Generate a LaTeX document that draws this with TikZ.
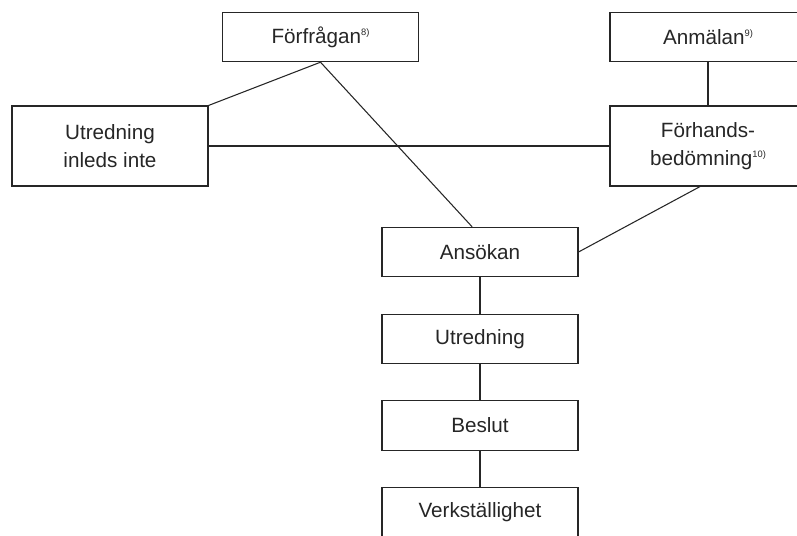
\documentclass[tikz,border=0pt]{standalone}
\usepackage{fontspec}
\setmainfont{Liberation Sans}
\usepackage{tikz}
\usetikzlibrary{positioning, calc}

\newcommand{\fnmark}[1]{\raisebox{6pt}{\fontsize{7}{8}\selectfont #1}}

\begin{document}
\begin{tikzpicture}[
  x=0.75pt, y=-0.75pt,
  stepbox/.style={draw, rectangle, black!85, line width=0.8pt, minimum width=147pt, minimum height=37pt, inner sep=2pt, text=black!85, font=\fontsize{15.5}{20.5}\selectfont, align=center},
  tallbox/.style={stepbox, minimum height=60pt},
  link/.style={line width=0.8pt, black!85},
  node distance=27.3pt
]
\useasboundingbox (0,0) rectangle (797,536);
\clip (0,0) rectangle (797,536);

% Top row
\node[stepbox]  (Forfragan) at (320.5,37)  {Förfrågan\fnmark{8)}};
\node[stepbox]  (Anmalan)   at (708,37)    {Anmälan\fnmark{9)}};

% Second row
\node[tallbox]  (UtrInte)   at (110,146)   {Utredning\\inleds inte};
\node[tallbox]  (Forhand)   at (708,146)   {Förhands-\\bedömning\fnmark{10)}};

% Main chain
\node[stepbox]  (Ansokan)   at (480,252)   {Ansökan};
\node[stepbox]  (Utredning) [below=of Ansokan]   {Utredning};
\node[stepbox]  (Beslut)    [below=of Utredning] {Beslut};
\node[stepbox]  (Verk)      [below=of Beslut]    {Verkställighet};

% Connectors
\coordinate (AnsIn)  at ($(Ansokan.north west)!0.46!(Ansokan.north east)$);
\coordinate (ForOut) at ($(Forhand.south west)!0.46!(Forhand.south east)$);

\draw[link] (Forfragan.south) -- (UtrInte.north east);
\draw[link] (Forfragan.south) -- (AnsIn);
\draw[link] (UtrInte.east) -- (Forhand.west);
\draw[link] (Anmalan) -- (Forhand);
\draw[link] (Ansokan.east) -- (ForOut);
\draw[link] (Ansokan) -- (Utredning);
\draw[link] (Utredning) -- (Beslut);
\draw[link] (Beslut) -- (Verk);

\end{tikzpicture}
\end{document}
